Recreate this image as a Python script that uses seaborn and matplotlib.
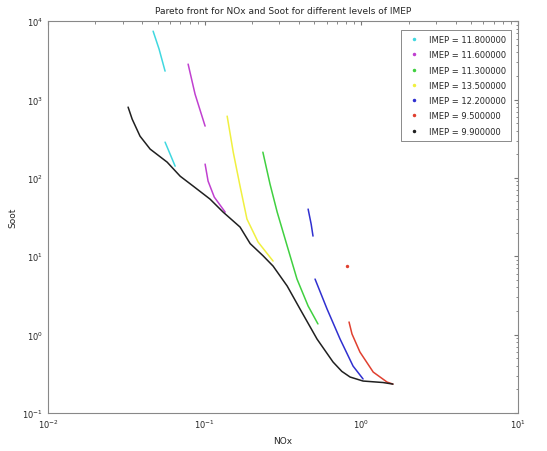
import numpy as np
import pandas as pd
import matplotlib
matplotlib.use("Agg")
import matplotlib.pyplot as plt
from matplotlib.lines import Line2D
import seaborn as sns

# ---- data ----
labels = ["IMEP = 11.800000", "IMEP = 11.600000", "IMEP = 11.300000",
          "IMEP = 13.500000", "IMEP = 12.200000", "IMEP = 9.500000",
          "IMEP = 9.900000"]
colors = ["#40d8e0", "#c040d0", "#40d040", "#f0f040", "#3030d0", "#e04030", "#202020"]

# cyan
cyan_nox_a = [0.0468, 0.0511, 0.0558]
cyan_soot_a = [7450, 4395, 2303]
cyan_nox_b = [0.0558, 0.0601, 0.0647]
cyan_soot_b = [286, 201, 141]
# magenta
mag_nox_a = [0.0783, 0.0867, 0.1005]
mag_soot_a = [2830, 1172, 458]
mag_nox_b = [0.1005, 0.105, 0.115, 0.135]
mag_soot_b = [150, 91, 56.9, 36.6]
# yellow
yel_nox = [0.139, 0.152, 0.168, 0.186, 0.219, 0.273]
yel_soot = [614, 213, 78.5, 29.8, 15.2, 8.69]
# green
grn_nox = [0.235, 0.261, 0.290, 0.336, 0.388, 0.457, 0.528]
grn_soot = [213, 83.4, 36.6, 13.5, 5.12, 2.32, 1.37]
# blue
blu_nox_a = [0.457, 0.478, 0.491]
blu_soot_a = [40, 25.7, 18.1]
blu_nox_b = [0.506, 0.604, 0.731, 0.885, 1.025]
blu_soot_b = [5.12, 2.12, 0.879, 0.397, 0.272]
# red
red_nox_a = [0.809]
red_soot_a = [7.5]
red_nox_b = [0.834, 0.871, 0.979, 1.19, 1.46, 1.59]
red_soot_b = [1.45, 1.02, 0.600, 0.333, 0.248, 0.234]
# black
blk_nox = [0.0324, 0.0344, 0.0386, 0.0448, 0.0575, 0.0697, 0.0844, 0.108, 0.131,
           0.168, 0.195, 0.235, 0.273, 0.336, 0.406, 0.521, 0.659, 0.75, 0.847,
           1.025, 1.375, 1.59]
blk_soot = [800, 562, 341, 233, 159, 105, 78.5, 53.7, 36.6,
            23.6, 14.5, 10.2, 7.50, 4.17, 2.12, 0.879, 0.448, 0.34, 0.288,
            0.256, 0.245, 0.234]

segments = [
    (0, "c1", cyan_nox_a, cyan_soot_a), (0, "c2", cyan_nox_b, cyan_soot_b),
    (1, "m1", mag_nox_a, mag_soot_a), (1, "m2", mag_nox_b, mag_soot_b),
    (3, "y1", yel_nox, yel_soot),
    (2, "g1", grn_nox, grn_soot),
    (4, "b1", blu_nox_a, blu_soot_a), (4, "b2", blu_nox_b, blu_soot_b),
    (5, "r1", red_nox_a, red_soot_a), (5, "r2", red_nox_b, red_soot_b),
    (6, "k1", blk_nox, blk_soot),
]
rows = []
for idx, seg, xs, ys in segments:
    for x, y in zip(xs, ys):
        rows.append({"NOx": x, "Soot": y, "series": labels[idx], "segment": seg})
df = pd.DataFrame(rows)
palette = dict(zip(labels, colors))

sns.set_style("white")
plt.rcParams["font.family"] = ["DejaVu Sans"]

fig = plt.figure(figsize=(5.47, 4.52), dpi=100)
ax = fig.add_axes([0.088, 0.084, 0.859, 0.867])

sns.lineplot(data=df, x="NOx", y="Soot", hue="series", units="segment",
             estimator=None, sort=False, palette=palette, linewidth=1.1,
             legend=False, ax=ax)
single = df[df["segment"] == "r1"]
sns.scatterplot(data=single, x="NOx", y="Soot", hue="series", palette=palette,
                s=6, linewidth=0, legend=False, ax=ax)

ax.set_xscale("log")
ax.set_yscale("log")
ax.set_xlim(1e-2, 1e1)
ax.set_ylim(1e-1, 1e4)
ax.tick_params(which="both", direction="in", top=True, right=True,
               labelsize=6, length=3, color="#777777")
ax.tick_params(which="minor", length=1.8)
for s in ax.spines.values():
    s.set_color("#888888")
    s.set_linewidth(0.8)
ax.set_xlabel("NOx", fontsize=6.5)
ax.set_ylabel("Soot", fontsize=6.5)
ax.set_title("Pareto front for NOx and Soot for different levels of IMEP", fontsize=6.5)

handles = [Line2D([], [], linestyle="none", marker=".", markersize=3, color=c)
           for c in colors]
leg = ax.legend(handles, labels, loc="upper right", bbox_to_anchor=(0.995, 0.988),
                fontsize=6, frameon=True, fancybox=False, borderpad=0.6,
                labelspacing=0.75, handletextpad=1.0, handlelength=1.8)
leg.get_frame().set_edgecolor("#555555")
leg.get_frame().set_linewidth(0.6)

fig.savefig("out.png", dpi=100, facecolor="white")
